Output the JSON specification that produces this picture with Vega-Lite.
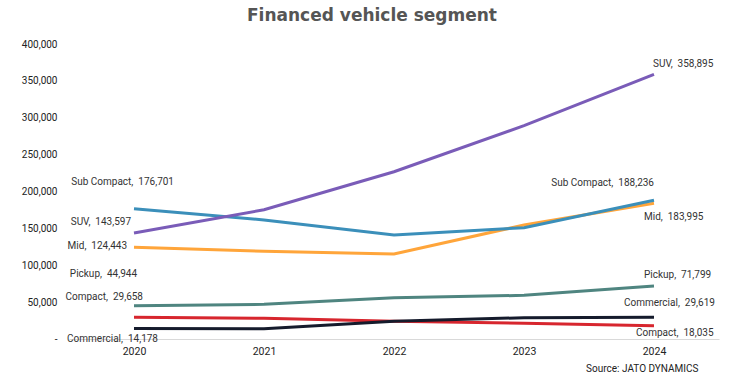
{
  "$schema": "https://vega.github.io/schema/vega-lite/v6.json",
  "width": 650,
  "height": 295,
  "autosize": {"type": "none"},
  "padding": {"left": 69, "top": 44, "right": 24, "bottom": 47},
  "background": "white",
  "title": {
    "text": "Financed vehicle segment",
    "font": "DejaVu Sans",
    "fontSize": 17,
    "fontWeight": "bold",
    "color": "#555555",
    "anchor": "middle",
    "frame": "group",
    "dx": -22,
    "offset": 14
  },
  "config": {
    "view": {"stroke": null},
    "font": "Roboto",
    "text": {"font": "Roboto", "fontSize": 10, "color": "#333333", "baseline": "middle"}
  },
  "data": {
    "values": [
      {"segment": "Mid", "year": "2020", "value": 124443},
      {"segment": "Mid", "year": "2021", "value": 118900},
      {"segment": "Mid", "year": "2022", "value": 115250},
      {"segment": "Mid", "year": "2023", "value": 154600},
      {"segment": "Mid", "year": "2024", "value": 183995},
      {"segment": "Sub Compact", "year": "2020", "value": 176701},
      {"segment": "Sub Compact", "year": "2021", "value": 161400},
      {"segment": "Sub Compact", "year": "2022", "value": 141000},
      {"segment": "Sub Compact", "year": "2023", "value": 150900},
      {"segment": "Sub Compact", "year": "2024", "value": 188236},
      {"segment": "SUV", "year": "2020", "value": 143597},
      {"segment": "SUV", "year": "2021", "value": 175300},
      {"segment": "SUV", "year": "2022", "value": 226850},
      {"segment": "SUV", "year": "2023", "value": 289200},
      {"segment": "SUV", "year": "2024", "value": 358895},
      {"segment": "Pickup", "year": "2020", "value": 44944},
      {"segment": "Pickup", "year": "2021", "value": 47000},
      {"segment": "Pickup", "year": "2022", "value": 56000},
      {"segment": "Pickup", "year": "2023", "value": 59200},
      {"segment": "Pickup", "year": "2024", "value": 71799},
      {"segment": "Compact", "year": "2020", "value": 29658},
      {"segment": "Compact", "year": "2021", "value": 28000},
      {"segment": "Compact", "year": "2022", "value": 24000},
      {"segment": "Compact", "year": "2023", "value": 21300},
      {"segment": "Compact", "year": "2024", "value": 18035},
      {"segment": "Commercial", "year": "2020", "value": 14178},
      {"segment": "Commercial", "year": "2021", "value": 14000},
      {"segment": "Commercial", "year": "2022", "value": 24000},
      {"segment": "Commercial", "year": "2023", "value": 28900},
      {"segment": "Commercial", "year": "2024", "value": 29619}
    ]
  },
  "transform": [
    {"calculate": "datum.segment + ',\u00a0\u00a0' + format(datum.value, ',')", "as": "label"},
    {"calculate": "datum.segment + '|' + datum.year", "as": "key"}
  ],
  "encoding": {
    "x": {
      "field": "year",
      "type": "ordinal",
      "scale": {"type": "point", "padding": 0.5},
      "axis": {
        "title": "Source: JATO DYNAMICS",
        "titleFont": "Roboto",
        "titleFontSize": 10,
        "titleFontWeight": "normal",
        "titleColor": "#222222",
        "titleAlign": "right",
        "titleAnchor": null,
        "titleX": 629,
        "titleY": 32,
        "titleBaseline": "alphabetic",
        "labelAngle": 0,
        "labelFont": "Roboto",
        "labelFontSize": 10.5,
        "labelColor": "#222222",
        "labelPadding": 7,
        "ticks": false,
        "domainColor": "#d9d9d9",
        "domainWidth": 1,
        "grid": false
      }
    },
    "y": {
      "field": "value",
      "type": "quantitative",
      "scale": {"domain": [0, 400000]},
      "axis": {
        "title": null,
        "values": [0, 50000, 100000, 150000, 200000, 250000, 300000, 350000, 400000],
        "labelExpr": "datum.value == 0 ? '-\u00a0\u00a0' : format(datum.value, ',')",
        "labelFont": "Roboto",
        "labelFontSize": 10,
        "labelColor": "#222222",
        "labelPadding": 12,
        "ticks": false,
        "domain": false,
        "grid": false
      }
    }
  },
  "layer": [
    {
      "mark": {"type": "line", "strokeWidth": 3},
      "encoding": {
        "color": {
          "field": "segment",
          "type": "nominal",
          "scale": {
            "domain": ["Mid", "Sub Compact", "SUV", "Pickup", "Compact", "Commercial"],
            "range": ["#FFA53A", "#3B8FBA", "#7A5CB8", "#4F8580", "#D7262E", "#151B2C"]
          },
          "legend": null
        }
      }
    },
    {"transform": [{"filter": "datum.key == 'Sub Compact|2020'"}], "mark": {"type": "text", "align": "right", "dx": 40, "dy": -27}, "encoding": {"text": {"field": "label"}}},
    {"transform": [{"filter": "datum.key == 'SUV|2020'"}], "mark": {"type": "text", "align": "right", "dx": -3, "dy": -11}, "encoding": {"text": {"field": "label"}}},
    {"transform": [{"filter": "datum.key == 'Mid|2020'"}], "mark": {"type": "text", "align": "right", "dx": -7, "dy": -1}, "encoding": {"text": {"field": "label"}}},
    {"transform": [{"filter": "datum.key == 'Pickup|2020'"}], "mark": {"type": "text", "align": "right", "dx": 3, "dy": -32}, "encoding": {"text": {"field": "label"}}},
    {"transform": [{"filter": "datum.key == 'Compact|2020'"}], "mark": {"type": "text", "align": "right", "dx": 9, "dy": -20}, "encoding": {"text": {"field": "label"}}},
    {"transform": [{"filter": "datum.key == 'Commercial|2020'"}], "mark": {"type": "text", "align": "right", "dx": 24, "dy": 10.5}, "encoding": {"text": {"field": "label"}}},
    {"transform": [{"filter": "datum.key == 'SUV|2024'"}], "mark": {"type": "text", "align": "left", "dx": -1, "dy": -10}, "encoding": {"text": {"field": "label"}}},
    {"transform": [{"filter": "datum.key == 'Sub Compact|2024'"}], "mark": {"type": "text", "align": "right", "dx": 0, "dy": -17}, "encoding": {"text": {"field": "label"}}},
    {"transform": [{"filter": "datum.key == 'Mid|2024'"}], "mark": {"type": "text", "align": "left", "dx": -10, "dy": 14}, "encoding": {"text": {"field": "label"}}},
    {"transform": [{"filter": "datum.key == 'Pickup|2024'"}], "mark": {"type": "text", "align": "left", "dx": -10, "dy": -11}, "encoding": {"text": {"field": "label"}}},
    {"transform": [{"filter": "datum.key == 'Commercial|2024'"}], "mark": {"type": "text", "align": "left", "dx": -30, "dy": -14}, "encoding": {"text": {"field": "label"}}},
    {"transform": [{"filter": "datum.key == 'Compact|2024'"}], "mark": {"type": "text", "align": "left", "dx": -18, "dy": 7}, "encoding": {"text": {"field": "label"}}}
  ]
}
